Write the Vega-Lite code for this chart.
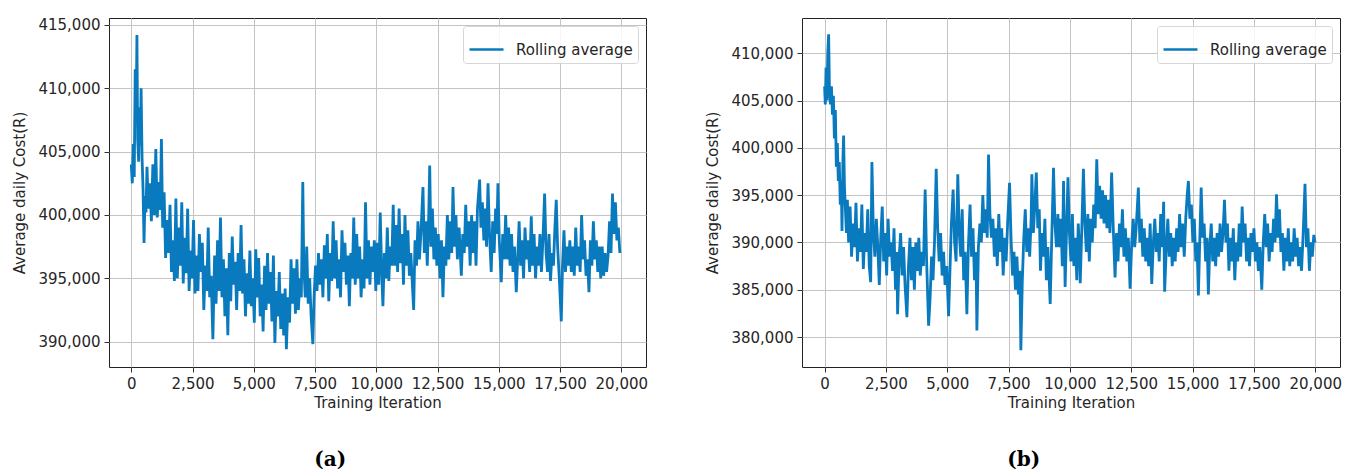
{
"$schema": "https://vega.github.io/schema/vega-lite/v6.json",
"padding": {"left": 12, "top": 17, "right": 5, "bottom": 2},
"background": "white",
"spacing": 56,
"config": {
  "font": "DejaVu Sans",
  "view": {"stroke": "#222", "strokeWidth": 1},
  "axis": {"labelFont": "DejaVu Sans", "labelFontSize": 15, "labelColor": "#262626", "titleFont": "DejaVu Sans", "titleFontSize": 15, "titleFontWeight": "normal", "titleColor": "#262626", "gridColor": "#c4c4c4", "gridWidth": 1, "domain": false, "tickColor": "#333", "tickSize": 5, "labelPadding": 4, "tickWidth": 1},
  "axisX": {"titlePadding": 4},
  "axisY": {"titlePadding": 10},
  "legend": {"orient": "top-right", "offset": 8, "padding": 5, "fillColor": "rgba(255,255,255,0.85)", "strokeColor": "#d6d6d6", "cornerRadius": 3, "labelFont": "DejaVu Sans", "labelFontSize": 15, "labelColor": "#262626", "symbolType": "stroke", "symbolSize": 1156, "symbolStrokeWidth": 2.5, "labelOffset": 11},
  "title": {"font": "DejaVu Serif", "fontSize": 20, "fontWeight": "bold", "color": "#000", "orient": "bottom", "offset": 40, "frame": "bounds"}
},
"resolve": {"scale": {"color": "independent"}, "legend": {"color": "independent"}},
"hconcat": [
 {
  "width": 537, "height": 349,
  "data": {"name": "a"},
  "title": {"text": "(a)"},
  "mark": {"type": "line", "strokeWidth": 2.8, "clip": true},
  "encoding": {
    "x": {"field": "iteration", "type": "quantitative", "scale": {"domain": [-910, 21008], "nice": false, "zero": false}, "axis": {"title": "Training Iteration", "values": [0,2500,5000,7500,10000,12500,15000,17500,20000], "format": ",d"}},
    "y": {"field": "cost", "type": "quantitative", "scale": {"domain": [388000, 415550], "nice": false, "zero": false}, "axis": {"title": "Average daily Cost(R)", "values": [390000,395000,400000,405000,410000,415000], "format": ",d"}},
    "color": {"datum": "Rolling average", "type": "nominal", "scale": {"range": ["#0a7abf"]}, "legend": {"title": null}}
  }
 },
 {
  "width": 538, "height": 349,
  "data": {"name": "b"},
  "title": {"text": "(b)"},
  "mark": {"type": "line", "strokeWidth": 2.8, "clip": true},
  "encoding": {
    "x": {"field": "iteration", "type": "quantitative", "scale": {"domain": [-920, 21008], "nice": false, "zero": false}, "axis": {"title": "Training Iteration", "values": [0,2500,5000,7500,10000,12500,15000,17500,20000], "format": ",d"}},
    "y": {"field": "cost", "type": "quantitative", "scale": {"domain": [376830, 413730], "nice": false, "zero": false}, "axis": {"title": "Average daily Cost(R)", "values": [380000,385000,390000,395000,400000,405000,410000], "format": ",d"}},
    "color": {"datum": "Rolling average", "type": "nominal", "scale": {"range": ["#0a7abf"]}, "legend": {"title": null}}
  }
 }
],
"datasets": {
 "a": [
{"iteration":0,"cost":404000},{"iteration":40,"cost":402500},{"iteration":80,"cost":405600},{"iteration":120,"cost":403000},{"iteration":160,"cost":411500},{"iteration":200,"cost":408000},{"iteration":230,"cost":414200},{"iteration":260,"cost":406000},{"iteration":300,"cost":404200},{"iteration":340,"cost":408500},{"iteration":370,"cost":405500},{"iteration":400,"cost":410000},{"iteration":440,"cost":404500},{"iteration":480,"cost":402000},{"iteration":520,"cost":397800},{"iteration":560,"cost":401500},{"iteration":600,"cost":400200},{"iteration":640,"cost":403800},{"iteration":700,"cost":400500},{"iteration":760,"cost":402500},{"iteration":820,"cost":399500},{"iteration":880,"cost":404000},{"iteration":940,"cost":400000},{"iteration":1000,"cost":405200},{"iteration":1060,"cost":399800},{"iteration":1120,"cost":402600},{"iteration":1180,"cost":400400},{"iteration":1230,"cost":406000},{"iteration":1280,"cost":399000},{"iteration":1340,"cost":401800},{"iteration":1400,"cost":396600},{"iteration":1460,"cost":399600},{"iteration":1520,"cost":397000},{"iteration":1580,"cost":400800},{"iteration":1640,"cost":395500},{"iteration":1700,"cost":398000},{"iteration":1760,"cost":394800},{"iteration":1820,"cost":401300},{"iteration":1880,"cost":395000},{"iteration":1940,"cost":399000},{"iteration":2000,"cost":396000},{"iteration":2060,"cost":401000},{"iteration":2120,"cost":394600},{"iteration":2180,"cost":398200},{"iteration":2240,"cost":395400},{"iteration":2300,"cost":400500},{"iteration":2360,"cost":394000},{"iteration":2420,"cost":397200},{"iteration":2480,"cost":395000},{"iteration":2540,"cost":399600},{"iteration":2600,"cost":393800},{"iteration":2660,"cost":396800},{"iteration":2720,"cost":394000},{"iteration":2780,"cost":398500},{"iteration":2840,"cost":395500},{"iteration":2900,"cost":397800},{"iteration":2960,"cost":392500},{"iteration":3020,"cost":396000},{"iteration":3080,"cost":394000},{"iteration":3140,"cost":399000},{"iteration":3200,"cost":393500},{"iteration":3260,"cost":395200},{"iteration":3330,"cost":390200},{"iteration":3400,"cost":396800},{"iteration":3460,"cost":393000},{"iteration":3520,"cost":398000},{"iteration":3580,"cost":394000},{"iteration":3640,"cost":399800},{"iteration":3700,"cost":393500},{"iteration":3760,"cost":396500},{"iteration":3820,"cost":392000},{"iteration":3880,"cost":395800},{"iteration":3940,"cost":390500},{"iteration":4000,"cost":397000},{"iteration":4060,"cost":393200},{"iteration":4120,"cost":398300},{"iteration":4180,"cost":394500},{"iteration":4240,"cost":396300},{"iteration":4300,"cost":392500},{"iteration":4360,"cost":397000},{"iteration":4420,"cost":394000},{"iteration":4480,"cost":399200},{"iteration":4540,"cost":393800},{"iteration":4600,"cost":396500},{"iteration":4660,"cost":392000},{"iteration":4720,"cost":395400},{"iteration":4780,"cost":393000},{"iteration":4840,"cost":397200},{"iteration":4900,"cost":392800},{"iteration":4960,"cost":395000},{"iteration":5020,"cost":391500},{"iteration":5080,"cost":397300},{"iteration":5140,"cost":393500},{"iteration":5200,"cost":396600},{"iteration":5260,"cost":392000},{"iteration":5320,"cost":394500},{"iteration":5380,"cost":390800},{"iteration":5440,"cost":396000},{"iteration":5500,"cost":392500},{"iteration":5560,"cost":397000},{"iteration":5620,"cost":393000},{"iteration":5680,"cost":395500},{"iteration":5740,"cost":391600},{"iteration":5800,"cost":396800},{"iteration":5860,"cost":389900},{"iteration":5920,"cost":394000},{"iteration":5980,"cost":392000},{"iteration":6040,"cost":395500},{"iteration":6100,"cost":391000},{"iteration":6160,"cost":393800},{"iteration":6220,"cost":390500},{"iteration":6280,"cost":394200},{"iteration":6330,"cost":389400},{"iteration":6400,"cost":393500},{"iteration":6460,"cost":391500},{"iteration":6520,"cost":396500},{"iteration":6580,"cost":393000},{"iteration":6640,"cost":395800},{"iteration":6700,"cost":392200},{"iteration":6760,"cost":396500},{"iteration":6820,"cost":392500},{"iteration":6880,"cost":395000},{"iteration":6940,"cost":393500},{"iteration":7000,"cost":402600},{"iteration":7040,"cost":396000},{"iteration":7100,"cost":393500},{"iteration":7160,"cost":397500},{"iteration":7220,"cost":393000},{"iteration":7280,"cost":395000},{"iteration":7340,"cost":392000},{"iteration":7410,"cost":389800},{"iteration":7460,"cost":393500},{"iteration":7520,"cost":396000},{"iteration":7580,"cost":394000},{"iteration":7640,"cost":397000},{"iteration":7700,"cost":394500},{"iteration":7760,"cost":396500},{"iteration":7820,"cost":393500},{"iteration":7880,"cost":397600},{"iteration":7940,"cost":395000},{"iteration":8000,"cost":398500},{"iteration":8060,"cost":393200},{"iteration":8120,"cost":397000},{"iteration":8180,"cost":394800},{"iteration":8240,"cost":399500},{"iteration":8300,"cost":395000},{"iteration":8360,"cost":398000},{"iteration":8420,"cost":394200},{"iteration":8480,"cost":396500},{"iteration":8540,"cost":393500},{"iteration":8600,"cost":398800},{"iteration":8660,"cost":395500},{"iteration":8720,"cost":397800},{"iteration":8780,"cost":394500},{"iteration":8840,"cost":396800},{"iteration":8900,"cost":392800},{"iteration":8960,"cost":397000},{"iteration":9020,"cost":395000},{"iteration":9080,"cost":399800},{"iteration":9140,"cost":394500},{"iteration":9200,"cost":398500},{"iteration":9260,"cost":395000},{"iteration":9320,"cost":397500},{"iteration":9380,"cost":393500},{"iteration":9440,"cost":396500},{"iteration":9500,"cost":394200},{"iteration":9560,"cost":401000},{"iteration":9620,"cost":395000},{"iteration":9680,"cost":398000},{"iteration":9740,"cost":394500},{"iteration":9800,"cost":397500},{"iteration":9860,"cost":395500},{"iteration":9920,"cost":398000},{"iteration":9980,"cost":394000},{"iteration":10040,"cost":397800},{"iteration":10100,"cost":394500},{"iteration":10160,"cost":400200},{"iteration":10220,"cost":395500},{"iteration":10270,"cost":392800},{"iteration":10330,"cost":397000},{"iteration":10390,"cost":395000},{"iteration":10450,"cost":399000},{"iteration":10510,"cost":394800},{"iteration":10570,"cost":397500},{"iteration":10630,"cost":396000},{"iteration":10690,"cost":400800},{"iteration":10750,"cost":396000},{"iteration":10810,"cost":399200},{"iteration":10870,"cost":395500},{"iteration":10930,"cost":400500},{"iteration":10990,"cost":396200},{"iteration":11050,"cost":398500},{"iteration":11110,"cost":394500},{"iteration":11170,"cost":400000},{"iteration":11230,"cost":396000},{"iteration":11290,"cost":398800},{"iteration":11350,"cost":395200},{"iteration":11410,"cost":397000},{"iteration":11460,"cost":395000},{"iteration":11525,"cost":392500},{"iteration":11580,"cost":398000},{"iteration":11640,"cost":396000},{"iteration":11700,"cost":399500},{"iteration":11760,"cost":396500},{"iteration":11820,"cost":398500},{"iteration":11905,"cost":402200},{"iteration":11960,"cost":397000},{"iteration":12020,"cost":399500},{"iteration":12080,"cost":396000},{"iteration":12140,"cost":400000},{"iteration":12180,"cost":403900},{"iteration":12230,"cost":397500},{"iteration":12290,"cost":400500},{"iteration":12350,"cost":396500},{"iteration":12410,"cost":399000},{"iteration":12470,"cost":396000},{"iteration":12530,"cost":398500},{"iteration":12600,"cost":395000},{"iteration":12660,"cost":398000},{"iteration":12720,"cost":393500},{"iteration":12780,"cost":397500},{"iteration":12840,"cost":396000},{"iteration":12900,"cost":400000},{"iteration":12960,"cost":396500},{"iteration":13020,"cost":399500},{"iteration":13080,"cost":397000},{"iteration":13130,"cost":402200},{"iteration":13190,"cost":397500},{"iteration":13250,"cost":400000},{"iteration":13310,"cost":396500},{"iteration":13380,"cost":399000},{"iteration":13470,"cost":395200},{"iteration":13530,"cost":398500},{"iteration":13590,"cost":397000},{"iteration":13650,"cost":400800},{"iteration":13710,"cost":397500},{"iteration":13770,"cost":399500},{"iteration":13830,"cost":396000},{"iteration":13890,"cost":400000},{"iteration":13950,"cost":397000},{"iteration":14010,"cost":399500},{"iteration":14070,"cost":396000},{"iteration":14130,"cost":400500},{"iteration":14217,"cost":402800},{"iteration":14270,"cost":399000},{"iteration":14330,"cost":401000},{"iteration":14390,"cost":398000},{"iteration":14450,"cost":400500},{"iteration":14500,"cost":397500},{"iteration":14560,"cost":402500},{"iteration":14620,"cost":398500},{"iteration":14690,"cost":395500},{"iteration":14750,"cost":399500},{"iteration":14810,"cost":397000},{"iteration":14870,"cost":400500},{"iteration":14920,"cost":398500},{"iteration":14965,"cost":402500},{"iteration":15020,"cost":398000},{"iteration":15100,"cost":394700},{"iteration":15160,"cost":398500},{"iteration":15220,"cost":396500},{"iteration":15280,"cost":400000},{"iteration":15340,"cost":396500},{"iteration":15400,"cost":399000},{"iteration":15460,"cost":396000},{"iteration":15520,"cost":398500},{"iteration":15580,"cost":395500},{"iteration":15640,"cost":397500},{"iteration":15713,"cost":393900},{"iteration":15770,"cost":396500},{"iteration":15830,"cost":399500},{"iteration":15890,"cost":396000},{"iteration":15950,"cost":398000},{"iteration":16010,"cost":395000},{"iteration":16070,"cost":399000},{"iteration":16130,"cost":396500},{"iteration":16190,"cost":398000},{"iteration":16260,"cost":395500},{"iteration":16325,"cost":399900},{"iteration":16380,"cost":396000},{"iteration":16440,"cost":398500},{"iteration":16500,"cost":395000},{"iteration":16560,"cost":397500},{"iteration":16620,"cost":396000},{"iteration":16680,"cost":398500},{"iteration":16740,"cost":395500},{"iteration":16800,"cost":398000},{"iteration":16870,"cost":401700},{"iteration":16930,"cost":397000},{"iteration":16990,"cost":395500},{"iteration":17050,"cost":398500},{"iteration":17110,"cost":394800},{"iteration":17170,"cost":397000},{"iteration":17230,"cost":396000},{"iteration":17290,"cost":399000},{"iteration":17345,"cost":401200},{"iteration":17400,"cost":397500},{"iteration":17470,"cost":395000},{"iteration":17550,"cost":391600},{"iteration":17600,"cost":396000},{"iteration":17660,"cost":398800},{"iteration":17720,"cost":395500},{"iteration":17780,"cost":397500},{"iteration":17840,"cost":396000},{"iteration":17900,"cost":398000},{"iteration":17960,"cost":395500},{"iteration":18020,"cost":397500},{"iteration":18080,"cost":395200},{"iteration":18140,"cost":399000},{"iteration":18200,"cost":396000},{"iteration":18260,"cost":397500},{"iteration":18320,"cost":395500},{"iteration":18380,"cost":400000},{"iteration":18440,"cost":396500},{"iteration":18500,"cost":398000},{"iteration":18560,"cost":395200},{"iteration":18620,"cost":396500},{"iteration":18680,"cost":393900},{"iteration":18740,"cost":398000},{"iteration":18800,"cost":396000},{"iteration":18860,"cost":399500},{"iteration":18920,"cost":396500},{"iteration":18980,"cost":398000},{"iteration":19040,"cost":395500},{"iteration":19100,"cost":397500},{"iteration":19160,"cost":395000},{"iteration":19220,"cost":397500},{"iteration":19280,"cost":395200},{"iteration":19340,"cost":397000},{"iteration":19400,"cost":395500},{"iteration":19460,"cost":396800},{"iteration":19520,"cost":399500},{"iteration":19580,"cost":397000},{"iteration":19640,"cost":401700},{"iteration":19700,"cost":398500},{"iteration":19760,"cost":401000},{"iteration":19820,"cost":398000},{"iteration":19880,"cost":399000},{"iteration":19940,"cost":397000}
 ],
 "b": [
{"iteration":0,"cost":406500},{"iteration":30,"cost":404600},{"iteration":60,"cost":408500},{"iteration":100,"cost":405000},{"iteration":130,"cost":410000},{"iteration":165,"cost":412000},{"iteration":200,"cost":406000},{"iteration":240,"cost":404600},{"iteration":280,"cost":406500},{"iteration":320,"cost":403500},{"iteration":360,"cost":405500},{"iteration":400,"cost":401000},{"iteration":440,"cost":404000},{"iteration":480,"cost":398000},{"iteration":520,"cost":400500},{"iteration":560,"cost":396500},{"iteration":600,"cost":398500},{"iteration":640,"cost":394000},{"iteration":680,"cost":396500},{"iteration":710,"cost":391200},{"iteration":750,"cost":399000},{"iteration":776,"cost":401300},{"iteration":810,"cost":396000},{"iteration":850,"cost":393500},{"iteration":890,"cost":391000},{"iteration":930,"cost":394500},{"iteration":980,"cost":390000},{"iteration":1040,"cost":393800},{"iteration":1100,"cost":388500},{"iteration":1160,"cost":392000},{"iteration":1220,"cost":389500},{"iteration":1280,"cost":394200},{"iteration":1340,"cost":388000},{"iteration":1400,"cost":391500},{"iteration":1460,"cost":389000},{"iteration":1520,"cost":394000},{"iteration":1580,"cost":387200},{"iteration":1640,"cost":391000},{"iteration":1700,"cost":389000},{"iteration":1760,"cost":393500},{"iteration":1820,"cost":387500},{"iteration":1880,"cost":385800},{"iteration":1930,"cost":398500},{"iteration":1990,"cost":391000},{"iteration":2050,"cost":388500},{"iteration":2110,"cost":392500},{"iteration":2170,"cost":389500},{"iteration":2230,"cost":385500},{"iteration":2290,"cost":390500},{"iteration":2350,"cost":393800},{"iteration":2410,"cost":388000},{"iteration":2470,"cost":391000},{"iteration":2530,"cost":386500},{"iteration":2590,"cost":392500},{"iteration":2650,"cost":388500},{"iteration":2710,"cost":390000},{"iteration":2770,"cost":387000},{"iteration":2830,"cost":391500},{"iteration":2890,"cost":385000},{"iteration":2950,"cost":389000},{"iteration":2976,"cost":382400},{"iteration":3040,"cost":388500},{"iteration":3100,"cost":391000},{"iteration":3160,"cost":386500},{"iteration":3220,"cost":389500},{"iteration":3280,"cost":385500},{"iteration":3356,"cost":382100},{"iteration":3420,"cost":387500},{"iteration":3480,"cost":390500},{"iteration":3540,"cost":386000},{"iteration":3600,"cost":389500},{"iteration":3660,"cost":385000},{"iteration":3720,"cost":390000},{"iteration":3780,"cost":387000},{"iteration":3840,"cost":390500},{"iteration":3900,"cost":386500},{"iteration":3960,"cost":389000},{"iteration":4030,"cost":387500},{"iteration":4100,"cost":395600},{"iteration":4160,"cost":388000},{"iteration":4240,"cost":381200},{"iteration":4300,"cost":384000},{"iteration":4360,"cost":388500},{"iteration":4420,"cost":386000},{"iteration":4480,"cost":390000},{"iteration":4550,"cost":397800},{"iteration":4610,"cost":391500},{"iteration":4670,"cost":388000},{"iteration":4730,"cost":391000},{"iteration":4790,"cost":386500},{"iteration":4850,"cost":389000},{"iteration":4910,"cost":385500},{"iteration":4980,"cost":387500},{"iteration":5054,"cost":382200},{"iteration":5110,"cost":387000},{"iteration":5170,"cost":392000},{"iteration":5240,"cost":395600},{"iteration":5300,"cost":390000},{"iteration":5360,"cost":388000},{"iteration":5430,"cost":397200},{"iteration":5490,"cost":391000},{"iteration":5550,"cost":388500},{"iteration":5610,"cost":393500},{"iteration":5670,"cost":386000},{"iteration":5730,"cost":389000},{"iteration":5800,"cost":382400},{"iteration":5860,"cost":389500},{"iteration":5930,"cost":394000},{"iteration":5990,"cost":388500},{"iteration":6050,"cost":391500},{"iteration":6110,"cost":386000},{"iteration":6170,"cost":389000},{"iteration":6208,"cost":380700},{"iteration":6270,"cost":389500},{"iteration":6330,"cost":392000},{"iteration":6390,"cost":390000},{"iteration":6450,"cost":395000},{"iteration":6510,"cost":391000},{"iteration":6570,"cost":393500},{"iteration":6630,"cost":390500},{"iteration":6683,"cost":399300},{"iteration":6740,"cost":393000},{"iteration":6800,"cost":390500},{"iteration":6860,"cost":392500},{"iteration":6920,"cost":388500},{"iteration":6980,"cost":391500},{"iteration":7040,"cost":387500},{"iteration":7100,"cost":393000},{"iteration":7160,"cost":389000},{"iteration":7220,"cost":391500},{"iteration":7280,"cost":386500},{"iteration":7340,"cost":390500},{"iteration":7400,"cost":388000},{"iteration":7460,"cost":392000},{"iteration":7539,"cost":396300},{"iteration":7600,"cost":390500},{"iteration":7660,"cost":386500},{"iteration":7720,"cost":389000},{"iteration":7780,"cost":385000},{"iteration":7840,"cost":388500},{"iteration":7900,"cost":384500},{"iteration":7960,"cost":387000},{"iteration":8000,"cost":378600},{"iteration":8060,"cost":386000},{"iteration":8120,"cost":390500},{"iteration":8180,"cost":393500},{"iteration":8240,"cost":389000},{"iteration":8300,"cost":391500},{"iteration":8360,"cost":388500},{"iteration":8420,"cost":392500},{"iteration":8449,"cost":397200},{"iteration":8510,"cost":391000},{"iteration":8570,"cost":394000},{"iteration":8630,"cost":397400},{"iteration":8690,"cost":391500},{"iteration":8750,"cost":393500},{"iteration":8800,"cost":387000},{"iteration":8860,"cost":391000},{"iteration":8920,"cost":388500},{"iteration":8980,"cost":392500},{"iteration":9040,"cost":386000},{"iteration":9100,"cost":389500},{"iteration":9196,"cost":383500},{"iteration":9260,"cost":390500},{"iteration":9331,"cost":397900},{"iteration":9390,"cost":392000},{"iteration":9450,"cost":389500},{"iteration":9510,"cost":393000},{"iteration":9570,"cost":389500},{"iteration":9630,"cost":392500},{"iteration":9690,"cost":387500},{"iteration":9740,"cost":396500},{"iteration":9804,"cost":385300},{"iteration":9850,"cost":390000},{"iteration":9920,"cost":396900},{"iteration":9980,"cost":391000},{"iteration":10040,"cost":388000},{"iteration":10100,"cost":393000},{"iteration":10160,"cost":387500},{"iteration":10220,"cost":390500},{"iteration":10280,"cost":386000},{"iteration":10340,"cost":392000},{"iteration":10400,"cost":388500},{"iteration":10420,"cost":385700},{"iteration":10480,"cost":391000},{"iteration":10550,"cost":397800},{"iteration":10610,"cost":392000},{"iteration":10670,"cost":389000},{"iteration":10730,"cost":393000},{"iteration":10790,"cost":388000},{"iteration":10850,"cost":392500},{"iteration":10910,"cost":390000},{"iteration":10970,"cost":394000},{"iteration":11030,"cost":391500},{"iteration":11094,"cost":398800},{"iteration":11150,"cost":393000},{"iteration":11210,"cost":396000},{"iteration":11270,"cost":392500},{"iteration":11330,"cost":395500},{"iteration":11390,"cost":392000},{"iteration":11450,"cost":395000},{"iteration":11510,"cost":391500},{"iteration":11570,"cost":394500},{"iteration":11630,"cost":391000},{"iteration":11700,"cost":397400},{"iteration":11760,"cost":392000},{"iteration":11840,"cost":386300},{"iteration":11900,"cost":391000},{"iteration":11960,"cost":388000},{"iteration":12020,"cost":392000},{"iteration":12080,"cost":389500},{"iteration":12140,"cost":393500},{"iteration":12200,"cost":388500},{"iteration":12260,"cost":391500},{"iteration":12320,"cost":388000},{"iteration":12380,"cost":390500},{"iteration":12452,"cost":385100},{"iteration":12520,"cost":390000},{"iteration":12580,"cost":392500},{"iteration":12640,"cost":389500},{"iteration":12700,"cost":391500},{"iteration":12790,"cost":395800},{"iteration":12850,"cost":390000},{"iteration":12910,"cost":392500},{"iteration":12970,"cost":388500},{"iteration":13030,"cost":391500},{"iteration":13090,"cost":388000},{"iteration":13150,"cost":390500},{"iteration":13210,"cost":387500},{"iteration":13270,"cost":392000},{"iteration":13335,"cost":385600},{"iteration":13400,"cost":390000},{"iteration":13460,"cost":392500},{"iteration":13520,"cost":389000},{"iteration":13580,"cost":391000},{"iteration":13640,"cost":388000},{"iteration":13700,"cost":393000},{"iteration":13760,"cost":389500},{"iteration":13820,"cost":394300},{"iteration":13860,"cost":384800},{"iteration":13930,"cost":389500},{"iteration":13990,"cost":392500},{"iteration":14050,"cost":388500},{"iteration":14110,"cost":391000},{"iteration":14170,"cost":387500},{"iteration":14230,"cost":390500},{"iteration":14290,"cost":388000},{"iteration":14350,"cost":391500},{"iteration":14410,"cost":389000},{"iteration":14470,"cost":393000},{"iteration":14530,"cost":389500},{"iteration":14590,"cost":392000},{"iteration":14660,"cost":388500},{"iteration":14720,"cost":392500},{"iteration":14780,"cost":395000},{"iteration":14829,"cost":396500},{"iteration":14890,"cost":392500},{"iteration":14950,"cost":394000},{"iteration":15010,"cost":390000},{"iteration":15070,"cost":392500},{"iteration":15130,"cost":388000},{"iteration":15180,"cost":390000},{"iteration":15236,"cost":384400},{"iteration":15300,"cost":391000},{"iteration":15350,"cost":395800},{"iteration":15410,"cost":390500},{"iteration":15470,"cost":392000},{"iteration":15530,"cost":388000},{"iteration":15590,"cost":390500},{"iteration":15643,"cost":384500},{"iteration":15700,"cost":389500},{"iteration":15760,"cost":392000},{"iteration":15820,"cost":388000},{"iteration":15880,"cost":390500},{"iteration":15940,"cost":387500},{"iteration":16000,"cost":391000},{"iteration":16060,"cost":388500},{"iteration":16120,"cost":392000},{"iteration":16180,"cost":389000},{"iteration":16240,"cost":391000},{"iteration":16300,"cost":394500},{"iteration":16360,"cost":390000},{"iteration":16420,"cost":392000},{"iteration":16480,"cost":387000},{"iteration":16540,"cost":390500},{"iteration":16600,"cost":388000},{"iteration":16660,"cost":391500},{"iteration":16720,"cost":386000},{"iteration":16780,"cost":390000},{"iteration":16840,"cost":388000},{"iteration":16900,"cost":392000},{"iteration":16960,"cost":388500},{"iteration":17020,"cost":393800},{"iteration":17080,"cost":390000},{"iteration":17140,"cost":392000},{"iteration":17200,"cost":388000},{"iteration":17260,"cost":390500},{"iteration":17320,"cost":387500},{"iteration":17380,"cost":391000},{"iteration":17440,"cost":389000},{"iteration":17500,"cost":391500},{"iteration":17560,"cost":388000},{"iteration":17620,"cost":390000},{"iteration":17680,"cost":387000},{"iteration":17740,"cost":389500},{"iteration":17820,"cost":385000},{"iteration":17880,"cost":390000},{"iteration":17940,"cost":393000},{"iteration":18000,"cost":389500},{"iteration":18060,"cost":392000},{"iteration":18120,"cost":388000},{"iteration":18180,"cost":391000},{"iteration":18240,"cost":389000},{"iteration":18300,"cost":392500},{"iteration":18360,"cost":390000},{"iteration":18420,"cost":395100},{"iteration":18480,"cost":390500},{"iteration":18540,"cost":393500},{"iteration":18600,"cost":389000},{"iteration":18660,"cost":391000},{"iteration":18720,"cost":387000},{"iteration":18780,"cost":390500},{"iteration":18840,"cost":388000},{"iteration":18900,"cost":391500},{"iteration":18960,"cost":387500},{"iteration":19020,"cost":390000},{"iteration":19080,"cost":388000},{"iteration":19140,"cost":391500},{"iteration":19200,"cost":388500},{"iteration":19260,"cost":390500},{"iteration":19320,"cost":387500},{"iteration":19380,"cost":389500},{"iteration":19440,"cost":387000},{"iteration":19500,"cost":390500},{"iteration":19582,"cost":396200},{"iteration":19640,"cost":389500},{"iteration":19700,"cost":391500},{"iteration":19760,"cost":387000},{"iteration":19820,"cost":390000},{"iteration":19880,"cost":388500},{"iteration":19940,"cost":390800},{"iteration":19990,"cost":390000}
 ]
}
}
